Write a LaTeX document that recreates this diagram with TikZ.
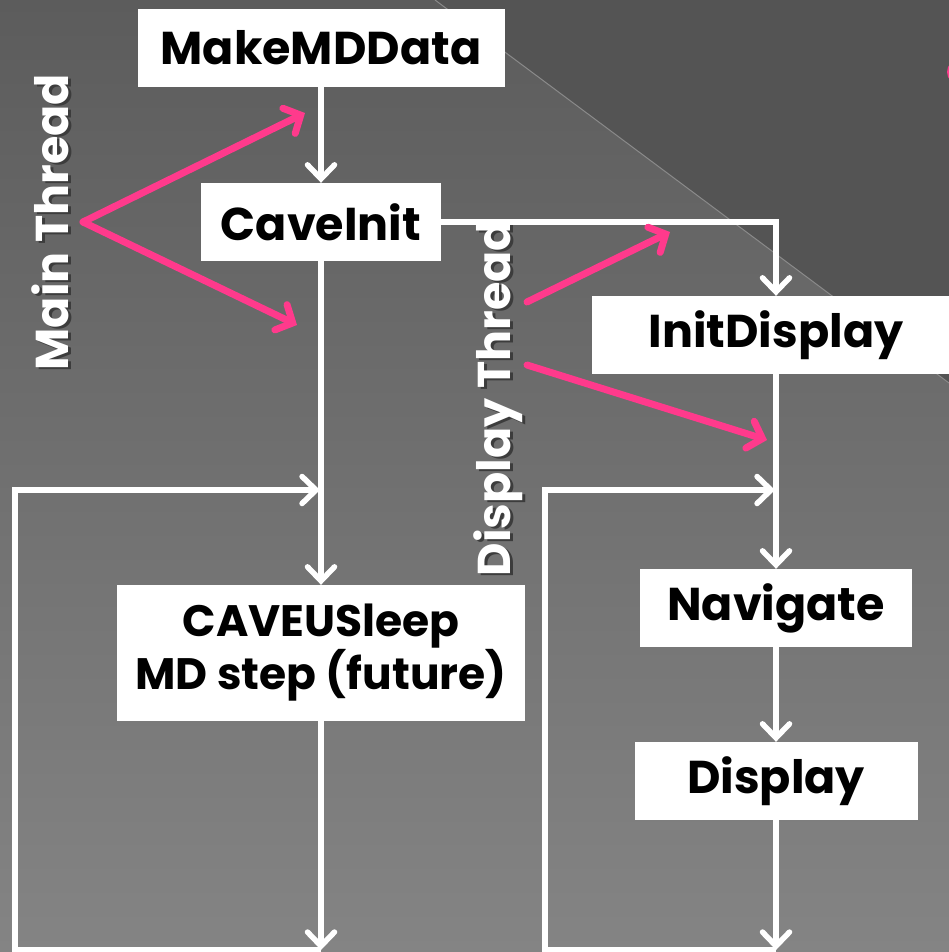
\documentclass[tikz,border=0pt]{standalone}
\usepackage{fontspec}
\usepackage{tikz}
\usetikzlibrary{arrows.meta,positioning,calc}
\newfontfamily\gothic{Poppins}
\definecolor{slatetop}{HTML}{5C5C5C}
\definecolor{slatebottom}{HTML}{848484}
\definecolor{slatedark}{HTML}{545454}
\definecolor{slateedge}{HTML}{8A8A8A}
\definecolor{hotpink}{HTML}{FF3A8C}
\definecolor{labelshadow}{HTML}{3C3C3C}

\begin{document}
\begin{tikzpicture}[
 x=1pt,y=-1pt,
 font=\gothic\bfseries\fontsize{46}{52}\selectfont,
 stage/.style={fill=white,text=black,inner sep=0pt,minimum height=78pt,align=center},
 thread/.style={text=white,rotate=90},
 flow/.style={-{Straight Barb[length=14pt,width=27pt,line width=5.5pt,line cap=round]},line width=5.5pt,draw=white},
 hint/.style={-{Straight Barb[length=13pt,width=28pt,line width=7pt,line cap=round]},line width=7pt,draw=hotpink,line cap=round}
]
% slide background
\clip (0,0) rectangle (949,952);
\shade[top color=slatetop,bottom color=slatebottom] (0,0) rectangle (949,952);
\fill[slatedark] (435,0) -- (949,0) -- (949,383) -- cycle;
\draw[slateedge,line width=1pt] (435,0) -- (949,383);
\fill[hotpink] (960,72) circle (13);

\node[stage,minimum width=367pt] (make) at (321,48) {MakeMDData};
\node[stage,minimum width=240pt] (init) at (321,222) {CaveInit};
\node[stage,minimum width=408pt,minimum height=136pt,font=\gothic\bfseries\fontsize{44}{50}\selectfont] (sleep) at (321,653) {CAVEUSleep\\MD step (future)};
\node[stage,minimum width=368pt] (initdisp) at (776,335) {InitDisplay};
\node[stage,minimum width=272pt] (nav) at (776,608) {Navigate};
\node[stage,minimum width=283pt] (disp) at (776,781) {Display};

\node[thread,text=labelshadow] at (53,224) {Main Thread};
\node[thread] (mainlbl) at (50,222) {Main Thread};
\node[thread,text=labelshadow] at (501,400) {Display Thread};
\node[thread] (displbl) at (498,398) {Display Thread};

% main thread
\coordinate (mainEnd) at (321,950);
\coordinate (mainCorner) at (15,490);
\coordinate (mainLoop) at (320,490);
\draw[flow] (make) -- (init);
\draw[flow] (init) -- (sleep);
\draw[flow] (sleep) -- (mainEnd);
\draw[flow] (mainEnd) -| (mainCorner) -- (mainLoop);

% display thread
\coordinate (dispEnd) at (776,950);
\coordinate (dispCorner) at (545,490);
\coordinate (dispLoop) at (775,490);
\draw[flow] (init.east) -| (initdisp.north);
\draw[flow] (initdisp) -- (nav);
\draw[flow] (nav) -- (disp);
\draw[flow] (disp) -- (dispEnd);
\draw[flow] (dispEnd) -| (dispCorner) -- (dispLoop);

% pink pointers from the thread labels
\coordinate (mainFrom) at (83,222);
\coordinate (mainUp) at (305,113);
\coordinate (mainDown) at (297,325);
\coordinate (dispFromA) at (527,302);
\coordinate (dispUp) at (670,232);
\coordinate (dispFromB) at (527,365);
\coordinate (dispDown) at (767,440);
\draw[hint] (mainFrom) -- (mainUp);
\draw[hint] (mainFrom) -- (mainDown);
\draw[hint] (dispFromA) -- (dispUp);
\draw[hint] (dispFromB) -- (dispDown);
\end{tikzpicture}
\end{document}
